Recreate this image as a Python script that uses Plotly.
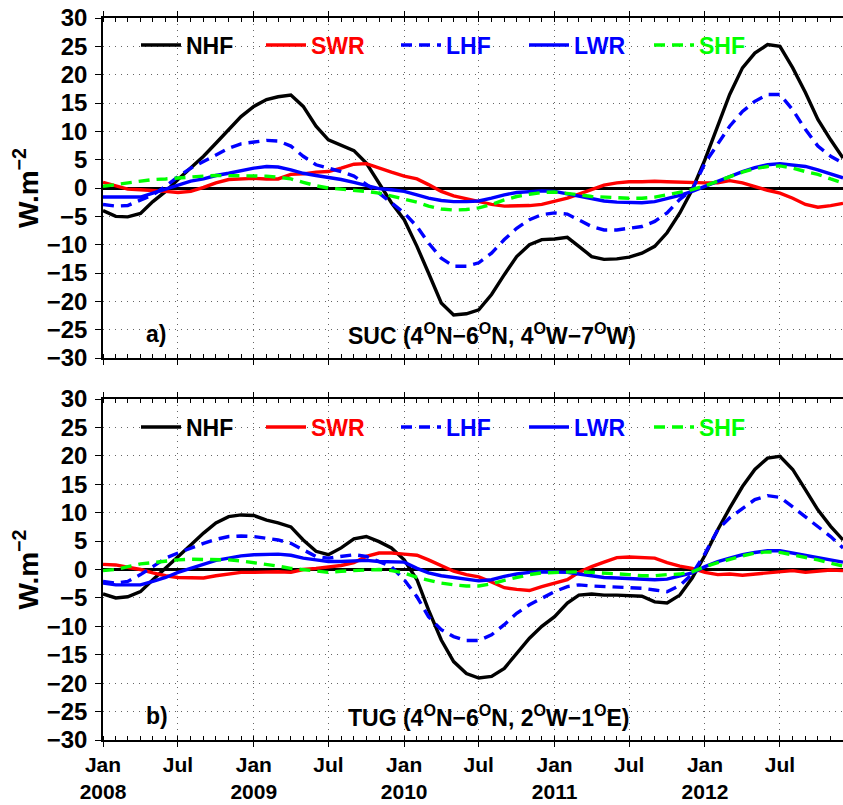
import plotly.graph_objects as go
import pandas as pd

# ---------------- data ----------------
months = pd.date_range("2008-01-01", "2012-12-01", freq="MS").strftime("%Y-%m-%d").tolist()

series_names = ["NHF", "SWR", "LHF", "LWR", "SHF"]

# a) SUC (4N-6N, 4W-7W)
suc_nhf = [-4.0, -5.0, -5.1, -4.5, -2.4, -0.6, 1.5, 3.5, 5.6, 7.9, 10.3, 12.6, 14.4, 15.6, 16.1, 16.4,
           14.4, 10.9, 8.5, 7.6, 6.6, 4.4, 0.9, -2.6, -5.6, -10.3, -15.0, -20.3, -22.4, -22.2, -21.5,
           -18.8, -15.3, -12.1, -10.0, -9.1, -9.0, -8.7, -10.3, -12.1, -12.6, -12.5, -12.2, -11.5,
           -10.3, -7.9, -4.4, -0.3, 5.0, 10.9, 16.5, 21.2, 23.8, 25.3, 25.0, 21.2, 16.8, 12.1, 8.5, 5.3]
suc_swr = [1.0, 0.3, -0.2, -0.3, -0.4, -0.6, -0.8, -0.6, 0.1, 0.9, 1.5, 1.6, 1.7, 1.6, 1.6, 2.4,
           2.5, 2.8, 2.9, 3.5, 4.2, 4.3, 3.5, 2.8, 2.1, 1.6, 0.6, -0.6, -1.4, -1.9, -2.4, -2.9, -3.2,
           -3.2, -3.1, -2.9, -2.4, -1.8, -1.1, -0.3, 0.5, 0.9, 1.1, 1.1, 1.2, 1.1, 1.0, 1.0, 0.9, 0.9,
           1.3, 0.9, 0.2, -0.4, -0.9, -1.8, -2.9, -3.4, -3.1, -2.7]
suc_lhf = [-2.9, -3.2, -3.1, -2.1, -1.2, 0.3, 2.0, 3.5, 4.7, 5.9, 7.0, 7.8, 8.1, 8.4, 8.3, 7.4,
           5.6, 4.1, 3.5, 2.9, 2.1, 0.6, -0.9, -2.6, -4.4, -6.8, -9.7, -12.4, -13.8, -13.8, -13.2,
           -11.5, -9.1, -7.1, -5.6, -4.7, -4.4, -4.6, -5.6, -6.8, -7.4, -7.4, -7.1, -6.8, -5.9, -4.4,
           -2.0, -0.3, 4.4, 7.9, 10.9, 13.5, 15.3, 16.5, 16.5, 13.8, 10.3, 7.4, 5.6, 4.4]
suc_lwr = [-1.6, -1.6, -1.6, -1.6, -0.9, -0.2, 0.6, 1.2, 1.6, 2.2, 2.6, 3.1, 3.5, 3.8, 3.7, 3.2,
           2.6, 2.2, 1.9, 1.5, 1.0, 0.5, -0.1, -0.3, -0.6, -1.2, -1.8, -2.2, -2.4, -2.4, -2.3, -1.8,
           -1.2, -0.8, -0.6, -0.5, -0.6, -1.0, -1.5, -1.9, -2.3, -2.5, -2.6, -2.6, -2.4, -1.9, -1.3,
           -0.6, 0.3, 1.2, 2.1, 2.9, 3.6, 4.1, 4.3, 4.1, 3.8, 3.2, 2.5, 1.8]
suc_shf = [0.3, 0.6, 0.9, 1.2, 1.5, 1.6, 1.8, 1.9, 2.1, 2.2, 2.2, 2.2, 2.2, 2.1, 1.9, 1.6, 1.0,
           0.4, 0.0, -0.2, -0.3, -0.6, -0.9, -1.4, -1.9, -2.5, -3.2, -3.7, -3.9, -3.8, -3.5, -2.9,
           -2.1, -1.5, -1.1, -0.8, -0.7, -0.9, -1.2, -1.5, -1.6, -1.8, -1.8, -1.8, -1.6, -1.2, -0.8,
           -0.3, 0.4, 1.2, 2.1, 2.8, 3.4, 3.8, 3.9, 3.5, 2.9, 2.4, 1.6, 0.9]

# b) TUG (4N-6N, 2W-1E)
tug_nhf = [-4.3, -5.0, -4.8, -3.9, -1.8, 0.2, 2.3, 4.3, 6.4, 8.2, 9.3, 9.6, 9.5, 8.7, 8.2, 7.5,
           5.2, 3.2, 2.6, 3.8, 5.4, 5.8, 4.9, 3.8, 1.7, -1.8, -7.1, -12.4, -16.2, -18.3, -19.1, -18.8,
           -17.4, -14.7, -12.1, -10.0, -8.3, -5.9, -4.5, -4.3, -4.5, -4.5, -4.6, -4.7, -5.7, -5.9,
           -4.5, -1.5, 2.5, 7.0, 10.8, 14.6, 17.6, 19.6, 19.9, 17.6, 14.0, 10.5, 7.6, 5.2]
tug_swr = [0.9, 0.8, 0.4, 0.0, -0.6, -1.1, -1.4, -1.5, -1.5, -1.1, -0.8, -0.5, -0.5, -0.4, -0.4,
           -0.5, 0.0, 0.2, 0.5, 0.7, 1.2, 2.3, 2.9, 2.9, 2.7, 2.5, 1.7, 0.7, -0.3, -0.9, -1.3, -2.2,
           -3.2, -3.5, -3.7, -3.0, -2.4, -1.8, -0.5, 0.5, 1.3, 2.1, 2.2, 2.1, 2.0, 1.2, 0.6, 0.2,
           -0.5, -0.9, -0.8, -1.0, -0.8, -0.6, -0.3, -0.2, -0.5, -0.3, -0.1, -0.2]
tug_lhf = [-2.1, -2.4, -2.1, -0.9, 0.5, 2.0, 2.9, 3.8, 4.6, 5.3, 5.8, 5.9, 5.8, 5.5, 5.2, 4.6,
           3.5, 2.3, 2.0, 2.3, 2.6, 2.3, 1.4, 0.5, -1.8, -4.8, -8.3, -10.6, -11.8, -12.5, -12.5,
           -11.5, -9.7, -7.7, -6.2, -5.0, -3.9, -3.0, -2.7, -2.9, -3.0, -3.1, -3.2, -3.3, -3.6, -3.9,
           -2.8, -0.8, 2.8, 7.0, 9.1, 10.8, 12.3, 13.0, 12.7, 11.0, 9.3, 7.6, 5.8, 3.8]
tug_lwr = [-2.4, -2.7, -2.7, -2.7, -2.1, -1.4, -0.5, 0.2, 1.0, 1.6, 2.0, 2.4, 2.6, 2.7, 2.7, 2.5,
           2.0, 1.7, 1.4, 1.4, 1.5, 1.6, 1.4, 1.4, 1.3, 0.2, -0.6, -1.1, -1.4, -1.7, -2.0, -1.8,
           -1.2, -0.8, -0.5, -0.4, -0.4, -0.5, -0.8, -1.1, -1.4, -1.5, -1.6, -1.7, -1.8, -1.7, -1.2,
           -0.6, 0.5, 1.4, 2.0, 2.6, 3.0, 3.3, 3.3, 2.9, 2.5, 2.1, 1.7, 1.3]
tug_shf = [-0.2, 0.0, 0.5, 1.0, 1.2, 1.5, 1.7, 1.8, 1.8, 1.8, 1.7, 1.5, 1.2, 1.0, 0.6, 0.2, 0.0,
           -0.3, -0.5, -0.3, -0.2, 0.0, 0.0, -0.2, -0.6, -1.4, -1.9, -2.4, -2.7, -2.9, -2.9, -2.5,
           -1.9, -1.4, -0.9, -0.6, -0.5, -0.4, -0.4, -0.5, -0.6, -0.8, -0.9, -1.1, -1.1, -0.9, -0.8,
           -0.4, 0.5, 1.2, 1.8, 2.4, 2.9, 3.1, 3.0, 2.6, 2.1, 1.7, 1.1, 0.6]

tick_vals = ["2008-01-01", "2008-07-01", "2009-01-01", "2009-07-01", "2010-01-01",
             "2010-07-01", "2011-01-01", "2011-07-01", "2012-01-01", "2012-07-01"]
tick_text = ["Jan<br>2008", "Jul", "Jan<br>2009", "Jul", "Jan<br>2010",
             "Jul", "Jan<br>2011", "Jul", "Jan<br>2012", "Jul"]
y_ticks = [-30, -25, -20, -15, -10, -5, 0, 5, 10, 15, 20, 25, 30]

panel_labels = ["a)", "b)"]
panel_titles = ["SUC (4<sup>O</sup>N\u22126<sup>O</sup>N, 4<sup>O</sup>W\u22127<sup>O</sup>W)",
                "TUG (4<sup>O</sup>N\u22126<sup>O</sup>N, 2<sup>O</sup>W\u22121<sup>O</sup>E)"]

# ---------------- styles ----------------
FONT = "Liberation Sans, Arial, Helvetica, sans-serif"
colors = {"NHF": "#000000", "SWR": "#ff0000", "LHF": "#0000ff", "LWR": "#0000ff", "SHF": "#00ff00"}
dashes = {"NHF": "solid", "SWR": "solid", "LHF": "11px,7px", "LWR": "solid", "SHF": "11px,7px"}
legend_px = {"NHF": 136, "SWR": 261, "LHF": 396, "LWR": 524, "SHF": 649}   # left edge of legend entries

W, H = 843, 805
ml, mr, mt, mb = 103, 0, 18, 65
ph = H - mt - mb
pw = W - ml - mr
top_dom = [1 - (358 - mt) / ph, 1]
bot_dom = [0, 1 - (399 - mt) / ph]
legend_y_px = [45, 427]

fig = go.Figure()
panels = [
    ("x", "y", [suc_nhf, suc_swr, suc_lhf, suc_lwr, suc_shf]),
    ("x2", "y2", [tug_nhf, tug_swr, tug_lhf, tug_lwr, tug_shf]),
]
legends = {}
k = 0
for p, (xa, ya, data) in enumerate(panels):
    for name, vals in zip(series_names, data):
        k += 1
        lg = "legend" if k == 1 else f"legend{k}"
        fig.add_trace(go.Scatter(
            x=months, y=vals, mode="lines", xaxis=xa, yaxis=ya, legend=lg,
            name=f"<span style='color:{colors[name]}'>{name}</span>",
            line=dict(color=colors[name], width=3.4, dash=dashes[name]),
            hoverinfo="skip",
        ))
        legends[lg] = dict(
            orientation="h", xanchor="left", yanchor="middle",
            x=(legend_px[name] - ml) / pw, y=1 - (legend_y_px[p] - mt) / ph,
            bgcolor="rgba(0,0,0,0)", borderwidth=0,
            font=dict(family=FONT, size=23, color="black", weight="bold"),
            itemwidth=40, itemclick=False, itemdoubleclick=False,
        )

GRID = dict(showgrid=True, gridcolor="#666666", gridwidth=1, griddash="1px,5px")

def xaxis(show_labels, anchor):
    return dict(
        type="date", range=["2008-01-01", "2012-12-01"], anchor=anchor,
        tickmode="array", tickvals=tick_vals, ticktext=tick_text,
        showticklabels=show_labels,
        tickfont=dict(family=FONT, size=21, color="black", weight="bold"),
        ticks="outside", ticklen=5, tickwidth=1, tickcolor="black",
        minor=dict(tickmode="linear", tick0="2008-01-01", dtick="M1", ticks="inside",
                   ticklen=4, tickwidth=1, tickcolor="black", showgrid=False),
        showline=True, linecolor="black", linewidth=1.5, mirror="allticks",
        zeroline=False, **GRID,
    )

def yaxis(dom, anchor):
    return dict(
        domain=dom, range=[-30, 30], anchor=anchor,
        tickmode="array", tickvals=y_ticks,
        tickfont=dict(family=FONT, size=24, color="black", weight="bold"),
        ticks="outside", ticklen=6, tickwidth=1, tickcolor="black", ticklabelstandoff=3,
        showline=True, linecolor="black", linewidth=1.5, mirror=False,
        zeroline=True, zerolinecolor="black", zerolinewidth=3, **GRID,
        title=dict(text="W.m<sup>\u22122</sup>", standoff=0,
                   font=dict(family=FONT, size=28, color="black", weight="bold")),
    )

fig.update_layout(
    width=W, height=H, margin=dict(l=ml, r=mr, t=mt, b=mb, pad=0, autoexpand=False),
    paper_bgcolor="white", plot_bgcolor="white",
    font=dict(family=FONT, size=22, color="black"),
    xaxis=xaxis(False, "y"), yaxis=yaxis(top_dom, "x"),
    xaxis2=xaxis(True, "y2"), yaxis2=yaxis(bot_dom, "x2"),
    showlegend=True,
    **legends,
)

for i, (xr, yr) in enumerate([("x domain", "y"), ("x2 domain", "y2")]):
    fig.add_annotation(text=panel_labels[i], xref=xr, yref=yr, x=(144 - ml) / pw, y=-25.7,
                       xanchor="left", yanchor="middle", showarrow=False,
                       font=dict(family=FONT, size=23, color="black", weight="bold"))
    fig.add_annotation(text=panel_titles[i], xref=xr, yref=yr, x=(346 - ml) / pw, y=-25.7,
                       xanchor="left", yanchor="middle", showarrow=False,
                       font=dict(family=FONT, size=23, color="black", weight="bold"))

fig.write_html("out.html", config={"displayModeBar": False},
               post_script="document.body.style.margin='0px';")
